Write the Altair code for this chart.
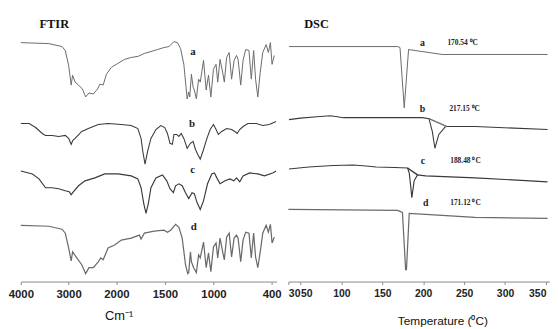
import altair as alt
import pandas as pd

# ---------------- FTIR spectra: (wavenumber cm-1, offset transmittance a.u.) ----------------
FTIR_A = [(4000, 242), (3413, 241), (3138, 238), (3070, 234), (3000, 219), (2946, 199), (2917, 209),
          (2864, 202), (2793, 199), (2711, 195), (2643, 187), (2574, 191), (2484, 190), (2395, 195),
          (2347, 200), (2277, 199), (2209, 210), (2105, 217), (1983, 221), (1916, 225), (1847, 227),
          (1779, 228), (1712, 231), (1644, 233), (1576, 235), (1509, 237), (1458, 238), (1407, 243),
          (1372, 242), (1339, 236), (1305, 220), (1271, 185), (1255, 192), (1244, 187), (1227, 210),
          (1210, 197), (1197, 194), (1176, 185), (1153, 205), (1136, 202), (1102, 224), (1075, 194),
          (1051, 209), (1027, 187), (1000, 215), (973, 220), (956, 202), (932, 225), (905, 212),
          (888, 202), (864, 227), (838, 232), (813, 205), (787, 224), (762, 229), (746, 225),
          (719, 199), (695, 224), (668, 235), (634, 234), (610, 205), (586, 234), (566, 205),
          (543, 187), (518, 212), (492, 232), (457, 240), (434, 232), (413, 242), (396, 220), (373, 229)]

FTIR_B = [(4000, 160), (3826, 160), (3690, 156), (3552, 150), (3483, 148), (3345, 148), (3207, 147),
          (3070, 148), (3000, 145), (2946, 139), (2911, 143), (2864, 145), (2725, 152), (2587, 155),
          (2380, 159), (2174, 160), (1949, 159), (1847, 158), (1779, 155), (1746, 145), (1728, 132),
          (1705, 119), (1678, 132), (1644, 145), (1593, 154), (1542, 158), (1502, 156), (1474, 150),
          (1448, 140), (1423, 139), (1407, 149), (1380, 149), (1356, 147), (1332, 150), (1305, 145),
          (1271, 135), (1237, 140), (1210, 142), (1186, 134), (1163, 129), (1136, 124), (1108, 132),
          (1067, 145), (1034, 154), (1000, 159), (973, 154), (949, 149), (915, 152), (864, 155),
          (813, 154), (780, 152), (756, 150), (729, 154), (695, 157), (644, 160), (559, 160),
          (492, 158), (424, 159), (355, 162)]

FTIR_C = [(4000, 112), (3758, 109), (3620, 104), (3483, 95), (3345, 95), (3207, 94), (3070, 92),
          (2988, 91), (2946, 88), (2897, 91), (2793, 97), (2657, 102), (2450, 105), (2244, 109),
          (1983, 109), (1847, 107), (1779, 104), (1746, 95), (1718, 79), (1695, 69), (1671, 79),
          (1644, 95), (1593, 105), (1525, 108), (1481, 102), (1448, 94), (1413, 90), (1390, 97),
          (1356, 99), (1322, 97), (1288, 90), (1255, 84), (1220, 90), (1197, 89), (1169, 80),
          (1136, 73), (1102, 82), (1061, 99), (1017, 109), (990, 110), (960, 104), (932, 99),
          (881, 102), (830, 104), (790, 102), (762, 105), (729, 101), (695, 107), (627, 110),
          (543, 109), (474, 107), (390, 110), (355, 112)]

FTIR_D = [(4000, 57), (3413, 56), (3138, 53), (3070, 49), (3000, 34), (2946, 21), (2917, 30),
          (2829, 24), (2725, 17), (2643, 8), (2574, 14), (2484, 14), (2380, 20), (2327, 24),
          (2277, 22), (2174, 34), (2037, 37), (1949, 42), (1847, 44), (1763, 47), (1746, 43),
          (1712, 49), (1610, 51), (1509, 52), (1474, 50), (1441, 52), (1390, 58), (1356, 55),
          (1322, 44), (1288, 17), (1265, 8), (1255, 9), (1237, 30), (1227, 20), (1204, 14),
          (1176, 9), (1153, 27), (1136, 24), (1102, 40), (1075, 14), (1051, 29), (1027, 10),
          (1000, 35), (973, 39), (956, 24), (932, 44), (905, 30), (888, 22), (864, 45), (838, 49),
          (813, 25), (787, 44), (762, 47), (746, 44), (719, 20), (695, 42), (668, 50), (634, 49),
          (610, 24), (586, 49), (566, 25), (543, 14), (518, 30), (492, 49), (457, 57), (434, 50),
          (413, 58), (396, 39), (373, 45)]

FTIR_LABELS = [("a", 1212, 232), ("b", 1220, 160), ("c", 1214, 113), ("d", 1204, 55)]
FTIR_TICKS = [4000, 3000, 2000, 1500, 1000, 400]

# ---------------- DSC thermograms: (temperature °C, offset heat flow a.u.) ----------------
DSC_A = [(31, 238), (168.8, 238), (171.6, 237), (176.8, 176), (182.1, 235), (223.2, 230),
         (263.4, 230), (352, 230)]
DSC_B = [(31, 164), (50, 165.5), (70, 167), (86.2, 168), (95, 167), (102.4, 166), (142.6, 166),
         (199, 166), (207, 165), (211.1, 152), (214.3, 135), (219.1, 149), (227.2, 157), (263.4, 157),
         (352, 154)]
DSC_B_TANGENT = [(207, 165), (229.2, 157)]
DSC_C = [(31, 114), (60, 116), (90, 117.5), (114.5, 118), (130, 117), (142.6, 116), (165, 115.5),
         (180.9, 115), (182.9, 110), (184.9, 95), (186.1, 85), (188.9, 102), (193, 108), (203, 107),
         (263.4, 105), (352, 101)]
DSC_C_TANGENT = [(180.9, 115), (193, 108)]
DSC_D = [(30, 73), (168.8, 72), (174.6, 70), (178.5, 12), (179.5, 12), (182.9, 69), (223.2, 67),
         (263.4, 65), (352, 64)]

DSC_LETTERS = [("a", 199, 242), ("b", 199, 175), ("c", 199.8, 122), ("d", 203, 80)]
DSC_PEAKS = [("170.54 \u2070C", 229.6, 242), ("217.15 \u2070C", 232, 175),
             ("188.48 \u2070C", 233, 122), ("171.12 \u2070C", 233, 80)]
DSC_TICKS = [30, 50, 100, 150, 200, 250, 300, 350]


def frame(series, xname, yname):
    rows = []
    for name, pts in series:
        for i, (x, y) in enumerate(pts):
            rows.append({xname: x, yname: y, "trace": name, "order": i})
    return pd.DataFrame(rows)


ftir_df = frame([("a", FTIR_A), ("b", FTIR_B), ("c", FTIR_C), ("d", FTIR_D)], "wn", "t")
dsc_df = frame([("a", DSC_A), ("b", DSC_B), ("bt", DSC_B_TANGENT), ("c", DSC_C),
                ("ct", DSC_C_TANGENT), ("d", DSC_D)], "temp", "hf")
ftir_lab = pd.DataFrame(FTIR_LABELS, columns=["label", "wn", "t"])
dsc_let = pd.DataFrame(DSC_LETTERS, columns=["label", "temp", "hf"])
dsc_pk = pd.DataFrame(DSC_PEAKS, columns=["label", "temp", "hf"])

AX_FONT = "Liberation Sans"
SERIF = "Liberation Serif"

ftir_x = alt.X("wn:Q", scale=alt.Scale(domain=[4000, 2000, 350], range=[0, 96.8, 259], nice=False, zero=False),
               axis=alt.Axis(values=FTIR_TICKS, tickCount=20, format="d", title="Cm\u207b\u00b9", grid=False,
                             labelFlush=False, labelOverlap=False, tickSize=3, domainColor="#8a8a8a",
                             tickColor="#8a8a8a", labelFont=AX_FONT, labelFontSize=11.5, labelFontWeight="bold",
                             labelColor="#222", labelPadding=4, titleFont=AX_FONT, titleFontSize=13,
                             titleFontWeight="normal", titleColor="#111", titleX=99, titleY=38,
                             titleBaseline="alphabetic"))
ftir_y = alt.Y("t:Q", scale=alt.Scale(domain=[0, 250], nice=False, zero=False), axis=None)

ftir_lines = alt.Chart(ftir_df).mark_line(interpolate="linear").encode(
    x=ftir_x, y=ftir_y, order="order:Q",
    color=alt.Color("trace:N", scale=alt.Scale(domain=["a", "b", "c", "d"],
                                               range=["#6a6a6a", "#3a3a3a", "#3a3a3a", "#6a6a6a"]), legend=None),
    strokeWidth=alt.StrokeWidth("trace:N", scale=alt.Scale(domain=["a", "b", "c", "d"],
                                                           range=[1.0, 1.4, 1.4, 1.0]), legend=None),
)
ftir_text = alt.Chart(ftir_lab).mark_text(font=SERIF, fontSize=11, fontWeight="bold", color="#222").encode(
    x=alt.X("wn:Q"), y=alt.Y("t:Q"), text="label:N")

ftir = alt.layer(ftir_lines, ftir_text).properties(
    width=259, height=250,
    title=alt.TitleParams("FTIR", anchor="start", frame="group", font=SERIF, fontSize=12.5, fontWeight="bold",
                          color="#111", dx=19, offset=4))

dsc_x = alt.X("temp:Q", scale=alt.Scale(domain=[30, 50, 355], range=[0, 12.3, 265], nice=False, zero=False),
              axis=alt.Axis(values=DSC_TICKS, tickCount=20, format="d", title="Temperature (\u2070C)", grid=False,
                            labelFlush=False, labelOverlap=False,
                            labelAlign=alt.ExprRef(expr="datum.value <= 50 ? 'left' : (datum.value >= 350 ? 'right' : 'center')"),
                            tickSize=3, domainColor="#8a8a8a", tickColor="#8a8a8a",
                            labelFont=AX_FONT, labelFontSize=10.5, labelFontWeight="bold", labelColor="#222",
                            labelPadding=4, titleFont=AX_FONT, titleFontSize=12, titleFontWeight="normal",
                            titleColor="#111", titleX=156, titleY=44, titleBaseline="alphabetic"))
dsc_y = alt.Y("hf:Q", scale=alt.Scale(domain=[0, 250], nice=False, zero=False), axis=None)

dsc_lines = alt.Chart(dsc_df).mark_line(interpolate="linear").encode(
    x=dsc_x, y=dsc_y, order="order:Q",
    color=alt.Color("trace:N", scale=alt.Scale(domain=["a", "b", "bt", "c", "ct", "d"],
                                               range=["#7a7a7a", "#333333", "#555555", "#333333",
                                                      "#555555", "#7a7a7a"]), legend=None),
    strokeWidth=alt.StrokeWidth("trace:N", scale=alt.Scale(domain=["a", "b", "bt", "c", "ct", "d"],
                                                           range=[1.0, 1.6, 0.8, 1.6, 0.8, 1.0]), legend=None),
)
dsc_letters = alt.Chart(dsc_let).mark_text(font=SERIF, fontSize=10, fontWeight="bold", color="#222").encode(
    x=alt.X("temp:Q"), y=alt.Y("hf:Q"), text="label:N")
dsc_peaks = alt.Chart(dsc_pk).mark_text(font=SERIF, fontSize=7.5, fontWeight="bold", color="#222",
                                        align="left").encode(
    x=alt.X("temp:Q"), y=alt.Y("hf:Q"), text="label:N")

dsc = alt.layer(dsc_lines, dsc_letters, dsc_peaks).properties(
    width=265, height=250,
    title=alt.TitleParams("DSC", anchor="start", frame="group", font=SERIF, fontSize=12.5, fontWeight="bold",
                          color="#111", dx=16, offset=4))

chart = alt.hconcat(ftir, dsc, spacing=12, bounds="flush").properties(
    padding={"left": 0, "top": 8, "right": 0, "bottom": 0}, background="white"
).configure_view(stroke=None)

chart.save("out.html", embed_options={"renderer": "svg", "actions": False})
